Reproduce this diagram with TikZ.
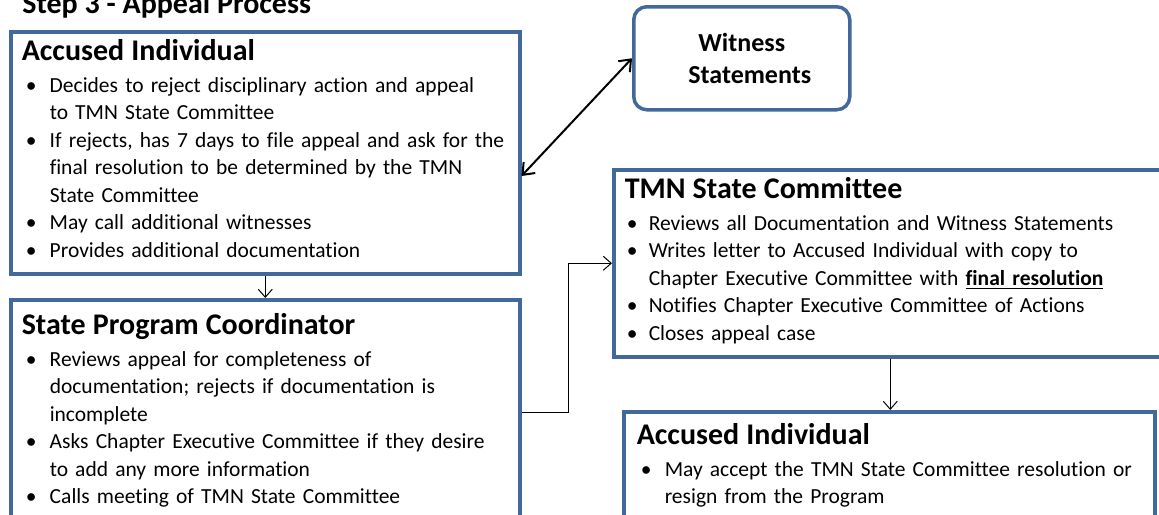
\documentclass[tikz,border=0pt]{standalone}
\usepackage{fontspec}
\setmainfont{Carlito}[Ligatures=NoCommon]
\usetikzlibrary{arrows.meta}
\definecolor{boxblue}{HTML}{41699B}
\newcommand{\hd}{\fontsize{15}{18}\selectfont\bfseries}

\begin{document}
\begin{tikzpicture}[x=0.5pt,y=-0.5pt,
    stepbox/.style={draw=boxblue, line width=1.75pt, fill=white, anchor=north west,
      align=left, inner xsep=5.5pt, inner ysep=0pt,
      font=\fontsize{10.75}{13.75}\selectfont},
    witbox/.style={draw=boxblue, line width=1.75pt, rounded corners=6.5pt, anchor=north west,
      align=center, minimum width=108pt, minimum height=51.5pt,
      font=\fontsize{13}{16}\selectfont\bfseries},
    flow/.style={-{Straight Barb[length=4pt,width=7pt]}, line width=0.5pt},
    dflow/.style={{Straight Barb[length=5pt,width=8pt]}-{Straight Barb[length=5pt,width=8pt]}, line width=1pt}]
    \useasboundingbox (0,0) rectangle (1159,514);
    \clip (0,0) rectangle (1159,514);

    \node[anchor=base west, inner sep=0pt, font=\fontsize{15}{16}\selectfont\bfseries] (ttl) at (22,13) {Step 3 - Appeal Process};

    % left column
    \node[stepbox, minimum width=254.5pt, minimum height=121pt, text width=243.5pt] (acc) at (9,30) {%
      \begin{tabular}{@{\hspace{2pt}}p{12pt}@{}l@{}}
        \multicolumn{2}{@{}l@{}}{\hd Accused Individual}\\[2pt]
        \textbullet & Decides to reject disciplinary action and appeal\\
        & to TMN State Committee\\
        \textbullet & If rejects, has 7 days to file appeal and ask for the\\
        & final resolution to be determined by the TMN\\
        & State Committee\\
        \textbullet & May call additional witnesses\\
        \textbullet & Provides additional documentation
      \end{tabular}};
    \node[stepbox, minimum width=254.5pt, minimum height=113pt, text width=243.5pt] (spc) at (9,298) {%
      \begin{tabular}{@{\hspace{2pt}}p{12pt}@{}l@{}}
        \multicolumn{2}{@{}l@{}}{\hd State Program Coordinator}\\[2pt]
        \textbullet & Reviews appeal for completeness of\\
        & documentation; rejects if documentation is\\
        & incomplete\\
        \textbullet & Asks Chapter Executive Committee if they desire\\
        & to add any more information\\
        \textbullet & Calls meeting of TMN State Committee
      \end{tabular}};

    % right column
    \node[witbox] (wit) at (632,5) {Witness\\\hspace*{8pt}Statements};
    \node[stepbox, minimum width=276.5pt, minimum height=93.5pt, text width=265.5pt] (tmn) at (612,168) {%
      \begin{tabular}{@{\hspace{1pt}}p{11pt}@{}l@{}}
        \multicolumn{2}{@{}l@{}}{\hd TMN State Committee}\\[2pt]
        \textbullet & Reviews all Documentation and Witness Statements\\
        \textbullet & Writes letter to Accused Individual with copy to\\
        & Chapter Executive Committee with \underline{\textbf{final resolution}}\\
        \textbullet & Notifies Chapter Executive Committee of Actions\\
        \textbullet & Closes appeal case
      \end{tabular}};
    \node[stepbox, minimum width=265.5pt, minimum height=56pt, text width=252.5pt, inner xsep=6.5pt] (ai2) at (622,410) {%
      \begin{tabular}{@{\hspace{2pt}}p{12pt}@{}l@{}}
        \multicolumn{2}{@{}l@{}}{\hd Accused Individual}\\[2pt]
        \textbullet & May accept the TMN State Committee resolution or\\
        & resign from the Program
      \end{tabular}};

    % connectors
    \draw[flow] (acc.south) -- (spc.north);
    \draw[dflow] (acc.east |- 0,176) -- (wit.west);
    \draw[flow] (spc.east) -- ++(47,0) |- (tmn.west);
    \draw[flow] (tmn.south) -- (tmn.south |- ai2.north);
\end{tikzpicture}
\end{document}
